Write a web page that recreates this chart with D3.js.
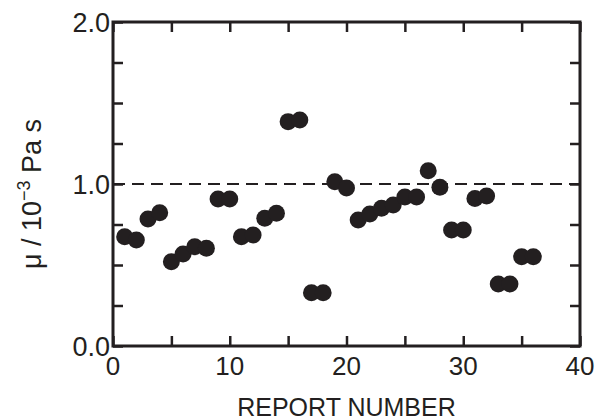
<!DOCTYPE html>
<html>
<head>
<meta charset="utf-8">
<script src="https://cdn.jsdelivr.net/npm/d3@7"></script>
<style>
  body { margin: 0; background: #fff; }
  text { font-family: "Liberation Sans", Arial, sans-serif; fill: #231f20; }
</style>
</head>
<body>
<div id="chart"></div>
<script>
// report number vs viscosity
var reportNum = d3.range(1, 37);
var viscosity = [0.675, 0.654, 0.784, 0.823, 0.52, 0.568, 0.613, 0.603, 0.907, 0.907,
                 0.675, 0.685, 0.788, 0.819, 1.385, 1.395, 0.329, 0.329, 1.014, 0.975,
                 0.778, 0.815, 0.85, 0.87, 0.92, 0.92, 1.082, 0.98, 0.716, 0.716,
                 0.91, 0.926, 0.383, 0.383, 0.551, 0.551];
var xTickLabels = [0, 10, 20, 30, 40];
var yTickLabels = [0, 1, 2];
var refLine = 1.0;

var width = 597, height = 420;
var margin = {left: 113, right: 17, top: 22, bottom: 74};
var ink = "#231f20";

var svg = d3.select("#chart").append("svg")
    .attr("width", width)
    .attr("height", height);

var x = d3.scaleLinear().domain([0, 40]).range([margin.left, width - margin.right]);
var y = d3.scaleLinear().domain([0, 2]).range([height - margin.bottom, margin.top]);

// reference line
svg.append("line")
    .attr("x1", x(0)).attr("x2", x(40))
    .attr("y1", y(refLine)).attr("y2", y(refLine))
    .attr("stroke", ink)
    .attr("stroke-width", 2)
    .attr("stroke-dasharray", "12,7");

// points
svg.append("g").selectAll("circle")
    .data(reportNum)
  .enter().append("circle")
    .attr("cx", function(d) { return x(d); })
    .attr("cy", function(d, i) { return y(viscosity[i]); })
    .attr("r", 8.5)
    .attr("fill", ink);

// axes, ticks pointing inward on all four sides
var tl = 10;
var xTicks = d3.range(0, 41, 5), yTicks = d3.range(0, 2.01, 0.25);

svg.append("g").attr("transform", "translate(0," + y(0) + ")")
    .call(d3.axisTop(x).tickValues(xTicks).tickSize(tl).tickFormat(""));
svg.append("g").attr("transform", "translate(0," + y(2) + ")")
    .call(d3.axisBottom(x).tickValues(xTicks).tickSize(tl).tickFormat(""));
svg.append("g").attr("transform", "translate(" + x(0) + ",0)")
    .call(d3.axisRight(y).tickValues(yTicks).tickSize(tl).tickFormat(""));
svg.append("g").attr("transform", "translate(" + x(40) + ",0)")
    .call(d3.axisLeft(y).tickValues(yTicks).tickSize(tl).tickFormat(""));

svg.selectAll(".domain").remove();
svg.selectAll(".tick line").attr("stroke", ink).attr("stroke-width", 2.5);

svg.append("rect")
    .attr("x", x(0)).attr("y", y(2))
    .attr("width", x(40) - x(0)).attr("height", y(0) - y(2))
    .attr("fill", "none")
    .attr("stroke", ink)
    .attr("stroke-width", 3);

// tick labels
svg.append("g").selectAll("text")
    .data(xTickLabels)
  .enter().append("text")
    .attr("x", function(d) { return x(d); })
    .attr("y", y(0) + 29)
    .attr("text-anchor", "middle")
    .attr("font-size", 26)
    .text(function(d) { return d; });

svg.append("g").selectAll("text")
    .data(yTickLabels)
  .enter().append("text")
    .attr("x", x(0) - 3)
    .attr("y", function(d) { return y(d) + 10; })
    .attr("text-anchor", "end")
    .attr("font-size", 27)
    .text(function(d) { return d3.format(".1f")(d); });

// axis titles
svg.append("text")
    .attr("x", (x(0) + x(40)) / 2)
    .attr("y", 416)
    .attr("text-anchor", "middle")
    .attr("font-size", 25)
    .text("REPORT NUMBER");

var yt = svg.append("text")
    .attr("transform", "translate(41," + 194 + ") rotate(-90)")
    .attr("text-anchor", "middle")
    .attr("font-size", 27);
yt.append("tspan").text("\u03bc / 10");
yt.append("tspan").attr("dy", -11).attr("font-size", 18).text("\u22123");
yt.append("tspan").attr("dy", 11).text(" Pa s");
</script>
</body>
</html>
